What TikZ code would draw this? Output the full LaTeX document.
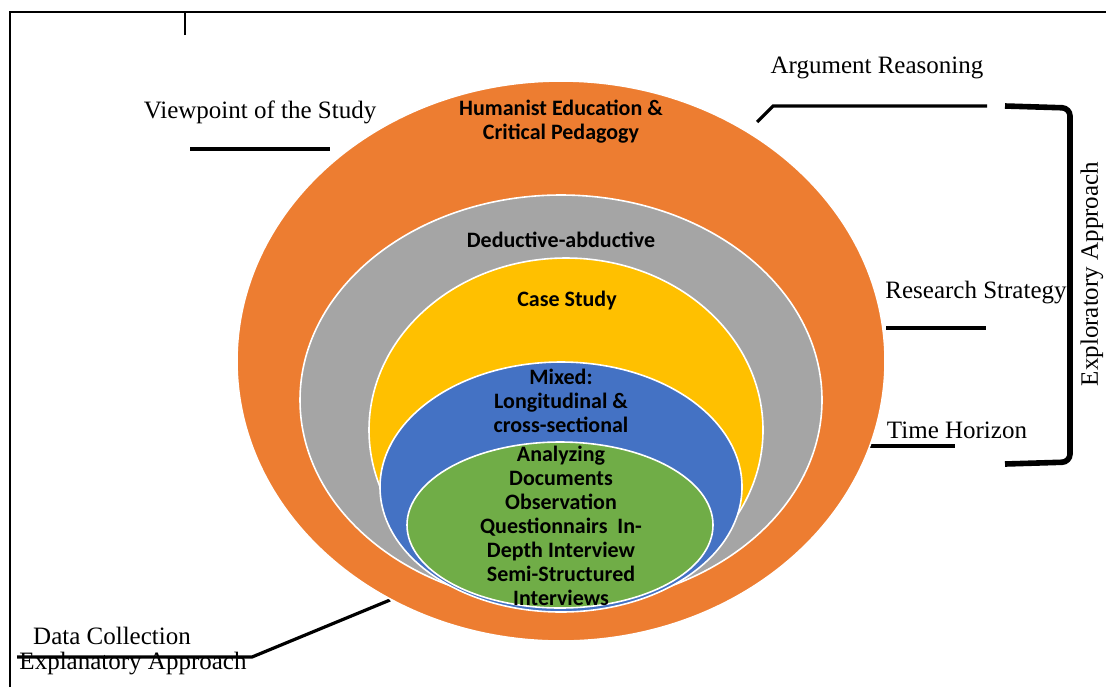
\documentclass[tikz,border=0pt]{standalone}
\usepackage{fontspec}
\setmainfont{Liberation Serif}
\newfontfamily\layerfont{Carlito}
\usetikzlibrary{positioning,shapes.geometric}

\definecolor{lorange}{HTML}{ED7D31}
\definecolor{lgray}{HTML}{A5A5A5}
\definecolor{lyellow}{HTML}{FFC000}
\definecolor{lblue}{HTML}{4472C4}
\definecolor{lgreen}{HTML}{70AD47}

\begin{document}
\begin{tikzpicture}[x=0.5pt,y=-0.5pt,
    layer/.style={ellipse,draw=white,line width=0.8pt,inner sep=0pt,outer sep=0pt},
    layertext/.style={font=\layerfont\bfseries\fontsize{11}{12}\selectfont,align=center,inner sep=0pt},
    side/.style={font=\fontsize{12.5}{14}\selectfont,inner sep=0pt},
    leader/.style={line width=1.6pt},
    frame/.style={line width=0.6pt}]
    \useasboundingbox (0,0) rectangle (1106,687);

    % frame and tick
    \coordinate (tl) at (10,12);
    \coordinate (tr) at (1106,12);
    \coordinate (bl) at (10,687);
    \coordinate (tick) at (185,35);
    \draw[frame] (bl) -- (tl) -- (tr);
    \draw[frame] (tick) -- (tick |- tl);

    % labels round the onion
    \node[side] (view)  at (260,112) {Viewpoint of the Study};
    \node[side] (arg)   at (877,68)  {Argument Reasoning};
    \node[side] (strat) at (976,293) {Research Strategy};
    \node[side] (time)  at (957,430) {Time Horizon};
    \node[side] (data)  at (112,636) {Data Collection};
    \node[side] (expl)  at (133,664) {Explanatory Approach};
    \node[side,rotate=90] (explo) at (1092,274) {Exploratory Approach};

    \coordinate (v1) at (190,149);  \coordinate (v2) at (330,149);
    \coordinate (a1) at (757,122);  \coordinate (a2) at (773,106);
    \coordinate (a3) at (987,106);
    \coordinate (s1) at (886,328);  \coordinate (s2) at (986,328);
    \coordinate (t1) at (870,446);  \coordinate (t2) at (955,446);
    \coordinate (d1) at (390,600);  \coordinate (d2) at (252,657);
    \coordinate (d3) at (17,657);
    \coordinate (b1) at (1005,106); \coordinate (b2) at (1070,108);
    \coordinate (b3) at (1070,462); \coordinate (b4) at (1005,464);

    \draw[leader] (v1) -- (v2);
    \draw[leader] (a1) -- (a2) -- (a3);
    \draw[leader] (s1) -- (s2);
    \draw[leader] (t1) -- (t2);
    \draw[leader] (d1) -- (d2) -- (d3);
    \draw[line width=2.8pt,rounded corners=4pt] (b1) -- (b2) -- (b3) -- (b4);

    % nested layers
    \node[layer,fill=lorange,minimum width=324pt,minimum height=280pt] (outer)   at (561,361) {};
    \node[layer,fill=lgray,  minimum width=261pt,minimum height=205pt] (logic)   at (561,400) {};
    \node[layer,fill=lyellow,minimum width=197pt,minimum height=172pt] (case)    at (566,430) {};
    \node[layer,fill=lblue,  minimum width=181pt,minimum height=125pt] (horizon) at (561,487) {};
    \node[layer,fill=lgreen, minimum width=153pt,minimum height=83pt]  (method)  at (560,525) {};

    \node[layertext] (outerT)   at (561,122) {Humanist Education \&\\Critical Pedagogy};
    \node[layertext] (logicT)   at (561,240) {Deductive-abductive};
    \node[layertext] (caseT)    at (567,300) {Case Study};
    \node[layertext] (horizonT) at (561,401) {Mixed:\\Longitudinal \&\\cross-sectional};
    \node[layertext] (methodT)  at (561,526) {Analyzing\\Documents\\Observation\\Questionnairs~~In-\\Depth Interview\\Semi-Structured\\Interviews};
\end{tikzpicture}
\end{document}
